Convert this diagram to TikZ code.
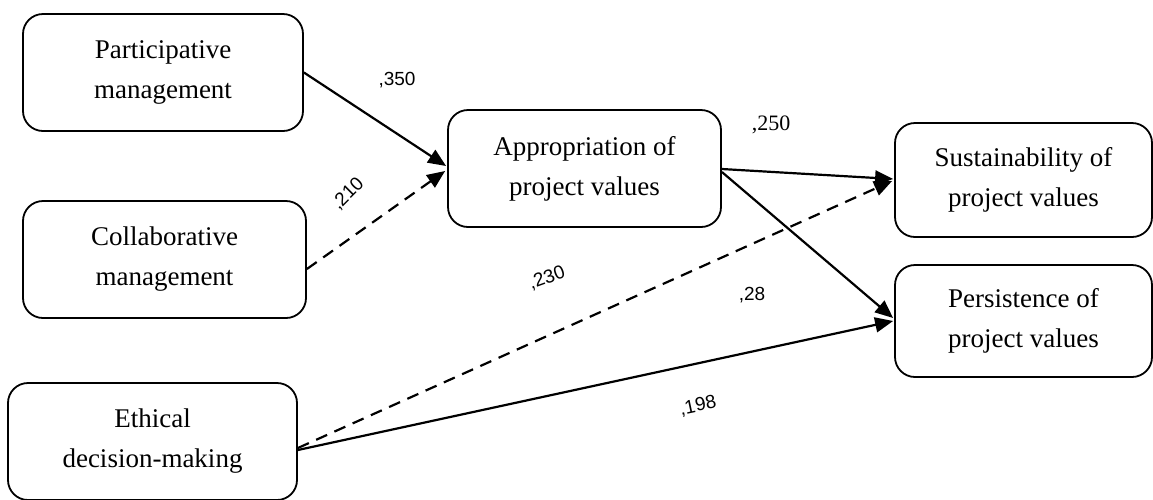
\documentclass[tikz,border=0pt]{standalone}
\usepackage{fontspec}
\setmainfont{Liberation Serif}
\newfontfamily\labelfont{Liberation Sans}
\usetikzlibrary{arrows.meta,calc}

\tikzset{
  box/.style={draw, line width=1.8pt, rounded corners=20pt, align=center,
    inner sep=0pt, font=\fontsize{27}{40}\selectfont},
  link/.style={line width=2.2pt, -{Triangle[length=18pt,width=15pt]}},
  dlink/.style={link, dash pattern=on 12pt off 8pt},
  coeflabel/.style={inner sep=0pt, font=\labelfont\fontsize{19}{19}\selectfont},
  seriflabel/.style={inner sep=0pt, font=\fontsize{22}{22}\selectfont}
}

\begin{document}
\begin{tikzpicture}[x=1pt, y=-1pt]
\useasboundingbox (0,0) rectangle (1153,499);

% constructs
\node[box, minimum width=280pt, minimum height=117pt] (part) at (163,72.5)
  {Participative\\management};
\node[box, minimum width=283pt, minimum height=117pt] (coll) at (164.5,259.5)
  {Collaborative\\management};
\node[box, minimum width=289pt, minimum height=117pt] (eth) at (152.5,441.5)
  {Ethical\\decision-making};
\node[box, minimum width=273pt, minimum height=117pt] (appr) at (584.5,168.5)
  {Appropriation of\\project values};
\node[box, minimum width=257pt, minimum height=114pt] (sust) at (1023.5,180)
  {Sustainability of\\project values};
\node[box, minimum width=257pt, minimum height=112pt] (pers) at (1023.5,321)
  {Persistence of\\project values};

% paths
\draw[link]  (part.east) -- ($(appr.west)+(-1,-2.5)$);
\draw[dlink] ($(coll.east)+(0,9.5)$) -- ($(appr.west)+(-2,2.5)$);
\draw[link]  ($(appr.east)+(0,0.5)$) -- ($(sust.west)+(-1,-1)$);
\draw[link]  ($(appr.east)+(0,3.5)$) -- ($(pers.west)+(-1,-3)$);
\draw[dlink] ($(eth.east)+(0,6.5)$) -- ($(sust.west)+(-2,1)$);
\draw[link]  ($(eth.east)+(0,8.5)$) -- ($(pers.west)+(-1,0)$);

% coefficients
\node[coeflabel] (l350) at (397,80) {,350};
\node[coeflabel, rotate=45] (l210) at (348,194) {,210};
\node[seriflabel] (l250) at (771,125) {,250};
\node[coeflabel, rotate=20] (l230) at (547,278) {,230};
\node[coeflabel] (l28) at (752,295) {,28};
\node[coeflabel, rotate=12] (l198) at (698,406) {,198};
\end{tikzpicture}
\end{document}
